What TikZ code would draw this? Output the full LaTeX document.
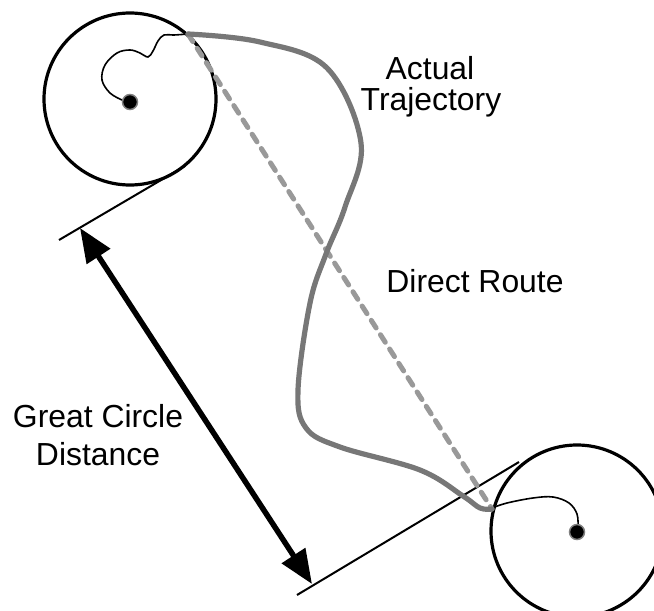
\documentclass[tikz,border=0pt]{standalone}
\usepackage{fontspec}
\setmainfont{Liberation Sans}
\usetikzlibrary{arrows.meta}
\definecolor{trajgray}{HTML}{777777}
\definecolor{dashgray}{HTML}{999999}
\tikzset{
  planet/.style={circle, draw=black, line width=3.2bp, minimum size=172bp, inner sep=0pt},
  dotmark/.style={circle, fill=black, draw=gray, line width=1.5bp, minimum size=15bp, inner sep=0pt},
  label/.style={font=\fontsize{32}{36}\selectfont, inner sep=0pt, anchor=base},
  tangent/.style={line width=2bp},
  wiggle/.style={line width=1.6bp},
  traj/.style={draw=trajgray, line width=5.2bp, line cap=round},
  direct/.style={draw=dashgray, line width=5bp, dash pattern=on 9bp off 8bp, line cap=round},
  gcarrow/.style={line width=5.5bp, {Triangle[length=34bp,width=27bp]}-{Triangle[length=34bp,width=27bp]}}
}
\begin{document}
\begin{tikzpicture}[x=1bp,y=-1bp]
\useasboundingbox (0,0) rectangle (654,611);
\clip (0,0) rectangle (654,611);
% planets
\node[planet] (c1) at (130,99) {};
\node[planet] (c2) at (577,531) {};
% tangent lines
\coordinate (t1a) at (59,240);
\coordinate (t1b) at (185,166);
\coordinate (t2a) at (297,595);
\coordinate (t2b) at (519,462);
\draw[tangent] (t1a) -- (t1b);
\draw[tangent] (t2a) -- (t2b);
% end points of trajectory
\coordinate (s) at (188,34);
\coordinate (e) at (492,509);
% wiggles inside circles
\draw[wiggle] plot[smooth, tension=0.6] coordinates {(122,100) (110,93) (102,80) (105,65) (117,53) (130,50) (140,53) (148,57) (153,51) (158,41) (164,35) (174,35) (188,34)};
\draw[wiggle] plot[smooth, tension=0.6] coordinates {(492,508) (507,503) (533,498) (553,497) (569,503) (577,514) (578,527)};
% direct route
\draw[direct] (s) -- (e);
% actual trajectory
\draw[traj] plot[smooth, tension=0.6] coordinates {(s) (260,42) (327,68) (361,143) (345,207) (326,254) (310,303) (298,390) (306,428) (340,447) (420,470) (463,496) (480,508) (e)};
% dots
\node[dotmark] (d1) at (130,102) {};
\node[dotmark] (d2) at (577,532) {};
% great circle distance arrow
\coordinate (a1) at (80,228);
\coordinate (a2) at (312,584);
\draw[gcarrow] (a1) -- (a2);
% labels
\node[label] (l1) at (430,80) {Actual};
\node[label] (l2) at (431,111) {Trajectory};
\node[label] (l3) at (475,292) {Direct Route};
\node[label] (l4) at (98,427) {Great Circle};
\node[label] (l5) at (98,465) {Distance};
\end{tikzpicture}
\end{document}
